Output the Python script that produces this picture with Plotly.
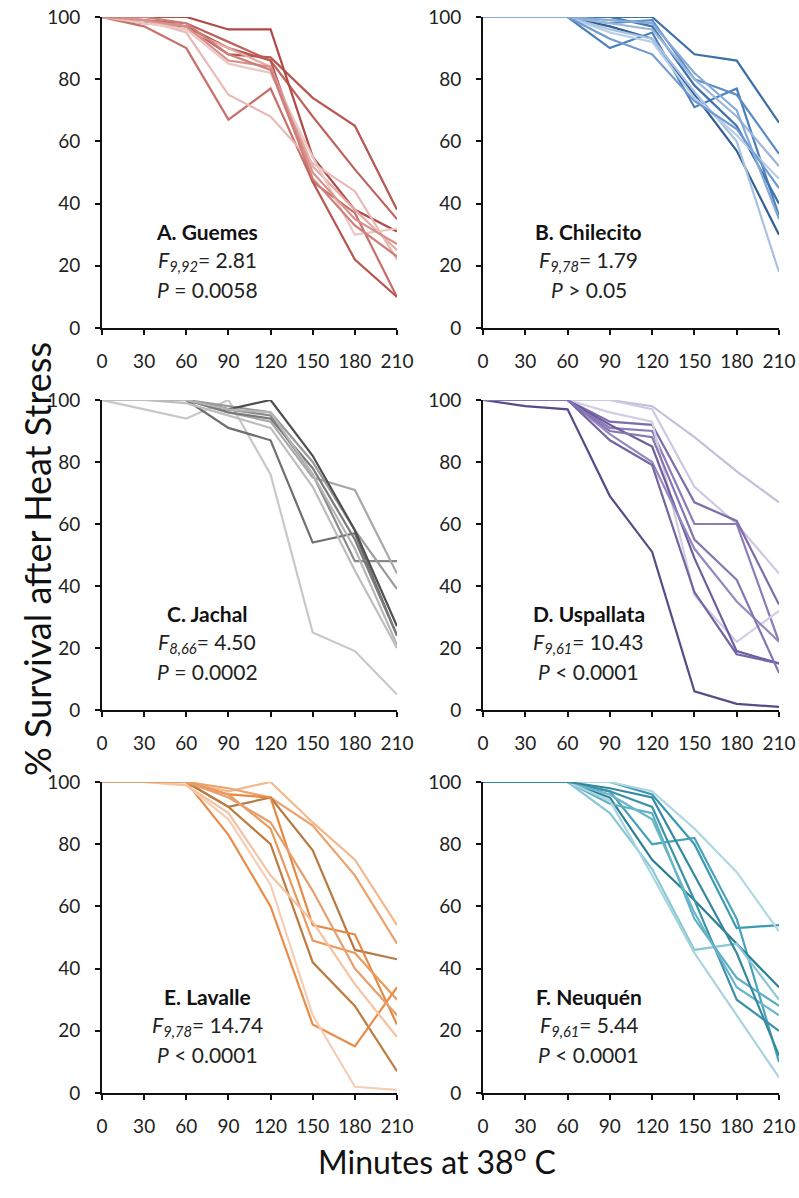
import plotly.graph_objects as go

minutes = [0, 30, 60, 90, 120, 150, 180, 210]
x_tick_labels = ["0", "30", "60", "90", "120", "150", "180", "210"]
y_ticks = [0, 20, 40, 60, 80, 100]

guemes = [
    [100, 99, 97, 88, 87, 74, 65, 38],
    [100, 99, 98, 92, 86, 68, 51, 35],
    [100, 100, 100, 96, 96, 55, 38, 31],
    [100, 97, 90, 67, 77, 47, 37, 10],
    [100, 98, 97, 90, 86, 47, 22, 10],
    [100, 99, 96, 90, 84, 52, 38, 25],
    [100, 99, 95, 75, 68, 53, 44, 22],
    [100, 98, 96, 85, 82, 55, 30, 32],
    [100, 99, 97, 86, 84, 50, 35, 27],
    [100, 100, 98, 88, 83, 48, 33, 23],
]
chilecito = [
    [100, 100, 100, 100, 100, 88, 86, 66],
    [100, 100, 100, 97, 93, 75, 57, 30],
    [100, 100, 100, 90, 95, 71, 77, 36],
    [100, 100, 100, 98, 99, 80, 75, 56],
    [100, 100, 100, 100, 97, 78, 65, 40],
    [100, 100, 100, 96, 93, 76, 60, 18],
    [100, 100, 100, 95, 92, 74, 62, 48],
    [100, 100, 100, 98, 96, 80, 68, 52],
    [100, 100, 100, 93, 88, 73, 64, 45],
    [100, 100, 100, 99, 98, 82, 70, 35],
]
jachal = [
    [100, 97, 94, 100, 76, 25, 19, 5],
    [100, 100, 100, 91, 87, 54, 57, 24],
    [100, 100, 100, 97, 95, 76, 48, 48],
    [100, 100, 100, 96, 93, 75, 71, 44],
    [100, 100, 100, 98, 96, 80, 58, 39],
    [100, 100, 100, 97, 100, 82, 58, 27],
    [100, 100, 100, 96, 94, 78, 55, 24],
    [100, 100, 100, 97, 96, 76, 52, 21],
    [100, 100, 99, 95, 91, 72, 45, 20],
]
uspallata = [
    [100, 98, 97, 69, 51, 6, 2, 1],
    [100, 100, 100, 100, 98, 88, 77, 67],
    [100, 100, 100, 100, 97, 72, 60, 44],
    [100, 100, 100, 93, 92, 67, 61, 34],
    [100, 100, 100, 91, 90, 60, 60, 22],
    [100, 100, 100, 96, 93, 37, 22, 32],
    [100, 100, 100, 92, 85, 49, 19, 15],
    [100, 100, 100, 89, 80, 52, 35, 22],
    [100, 100, 100, 87, 79, 38, 18, 15],
    [100, 100, 100, 90, 88, 55, 42, 12],
]
lavalle = [
    [100, 100, 100, 97, 100, 87, 75, 54],
    [100, 100, 100, 98, 95, 86, 70, 48],
    [100, 100, 100, 92, 95, 78, 46, 43],
    [100, 100, 100, 96, 95, 54, 51, 22],
    [100, 100, 100, 96, 85, 49, 45, 30],
    [100, 100, 100, 92, 80, 42, 28, 7],
    [100, 100, 100, 83, 60, 22, 15, 34],
    [100, 100, 99, 88, 67, 25, 2, 1],
    [100, 100, 99, 90, 70, 55, 35, 18],
    [100, 100, 100, 95, 87, 65, 40, 25],
]
neuquen = [
    [100, 100, 100, 100, 96, 80, 53, 54],
    [100, 100, 100, 100, 97, 85, 71, 52],
    [100, 100, 100, 97, 80, 82, 56, 10],
    [100, 100, 100, 95, 75, 62, 48, 34],
    [100, 100, 100, 93, 90, 56, 37, 28],
    [100, 100, 100, 90, 72, 46, 48, 30],
    [100, 100, 100, 97, 92, 62, 30, 20],
    [100, 100, 100, 96, 88, 58, 34, 25],
    [100, 100, 100, 94, 70, 45, 25, 5],
    [100, 100, 100, 98, 95, 70, 45, 12],
]

guemes_colors = ["#b9544e", "#c0625c", "#b04a45", "#c86f69", "#b85650",
                 "#e3aaa6", "#e8b9b6", "#edc7c4", "#d8908b", "#cf7f7a"]
chilecito_colors = ["#3d70a8", "#335f94", "#4a7fbb", "#5a8cc6", "#3f74ad",
                    "#a9c2e2", "#b8cde8", "#9ab7dc", "#6f9bcf", "#86a9d6"]
jachal_colors = ["#c8c8c8", "#6f6f6f", "#8a8a8a", "#a8a8a8", "#9a9a9a",
                 "#4f4f4f", "#7a7a7a", "#b6b6b6", "#bdbdbd"]
uspallata_colors = ["#5a4a88", "#c6bedc", "#cfc8e2", "#7e6cab", "#8c7bb6",
                    "#d4cee4", "#6e5c9e", "#9888c0", "#7565a5", "#8575b0"]
lavalle_colors = ["#f3b98c", "#eda26c", "#b87a42", "#e58a45", "#ea9a5c",
                  "#bd7c3e", "#e98d49", "#f6cdb5", "#f4c3a2", "#e6a070"]
neuquen_colors = ["#3a9ab3", "#b0d8e2", "#4aa3ba", "#2b7f94", "#5bb0c3",
                  "#8cc7d5", "#3c92a9", "#6ab5c7", "#a7d4df", "#3489a0"]

panel_titles = ["A. Guemes", "B. Chilecito", "C. Jachal",
                "D. Uspallata", "E. Lavalle", "F. Neuquén"]
f_subscripts = ["9,92", "9,78", "8,66", "9,61", "9,78", "9,61"]
f_values = ["2.81", "1.79", "4.50", "10.43", "14.74", "5.44"]
p_texts = ["= 0.0058", "> 0.05", "= 0.0002", "< 0.0001", "< 0.0001", "< 0.0001"]

W, H = 799, 1198
FONT = "Lato"

panels = [guemes, chilecito, jachal, uspallata, lavalle, neuquen]
panel_colors = [guemes_colors, chilecito_colors, jachal_colors,
                uspallata_colors, lavalle_colors, neuquen_colors]

# pixel layout of plot areas: (left, right), (top, bottom)
col_px = [(102, 397), (483, 779)]
row_px = [(17, 328), (400, 710), (782, 1093)]

fig = go.Figure()
layout = {}
for i, (series, colors) in enumerate(zip(panels, panel_colors)):
    r, c = divmod(i, 2)
    xl, xr = col_px[c]
    yt, yb = row_px[r]
    n = i + 1
    xa = "x" if n == 1 else f"x{n}"
    ya = "y" if n == 1 else f"y{n}"
    xkey = "xaxis" if n == 1 else f"xaxis{n}"
    ykey = "yaxis" if n == 1 else f"yaxis{n}"
    layout[xkey] = dict(
        domain=[xl / W, xr / W], anchor=ya, range=[0, 210],
        tickmode="array", tickvals=minutes, ticktext=x_tick_labels,
        showgrid=False, zeroline=False, showline=True, linecolor="#111111",
        linewidth=2, ticks="outside", ticklen=5, tickwidth=1.5,
        tickcolor="#111111", ticklabelstandoff=10, automargin=False,
        tickfont=dict(family=FONT, size=19, color="#222222"),
    )
    layout[ykey] = dict(
        domain=[1 - yb / H, 1 - yt / H], anchor=xa, range=[0, 100],
        tickmode="array", tickvals=y_ticks,
        showgrid=False, zeroline=False, showline=True, linecolor="#111111",
        linewidth=2, ticks="outside", ticklen=5, tickwidth=1.5,
        tickcolor="#111111", ticklabelstandoff=11, automargin=False,
        tickfont=dict(family=FONT, size=19, color="#222222"),
    )
    for vals, col in zip(series, colors):
        fig.add_trace(go.Scatter(
            x=minutes, y=vals, mode="lines", xaxis=xa, yaxis=ya,
            line=dict(color=col, width=2.2), showlegend=False,
            hoverinfo="skip",
        ))
    fig.add_annotation(
        x=75, y=31, xref=xa, yref=ya, showarrow=False,
        text=f"<b>{panel_titles[i]}</b>",
        font=dict(family=FONT, size=21, color="#111111"),
    )
    fig.add_annotation(
        x=75, y=21.5, xref=xa, yref=ya, showarrow=False,
        text=f"<i>F</i><sub><i>{f_subscripts[i]}</i></sub>= {f_values[i]}",
        font=dict(family=FONT, size=21, color="#222222"),
    )
    fig.add_annotation(
        x=75, y=12.5, xref=xa, yref=ya, showarrow=False,
        text=f"<i>P</i> {p_texts[i]}",
        font=dict(family=FONT, size=21, color="#222222"),
    )

fig.add_annotation(
    x=37 / W, y=1 - 559 / H, xref="paper", yref="paper", showarrow=False,
    xanchor="center", yanchor="middle",
    text="% Survival after Heat Stress", textangle=-90,
    font=dict(family=FONT, size=36, color="#111111"),
)
fig.add_annotation(
    x=437 / W, y=1 - 1160 / H, xref="paper", yref="paper", showarrow=False,
    xanchor="center", yanchor="middle",
    text="Minutes at 38<sup>o</sup> C",
    font=dict(family=FONT, size=32, color="#111111"),
)

fig.update_layout(
    width=W, height=H, margin=dict(l=0, r=0, t=0, b=0),
    paper_bgcolor="white", plot_bgcolor="white",
    **layout,
)

fig.write_html("out.html")
